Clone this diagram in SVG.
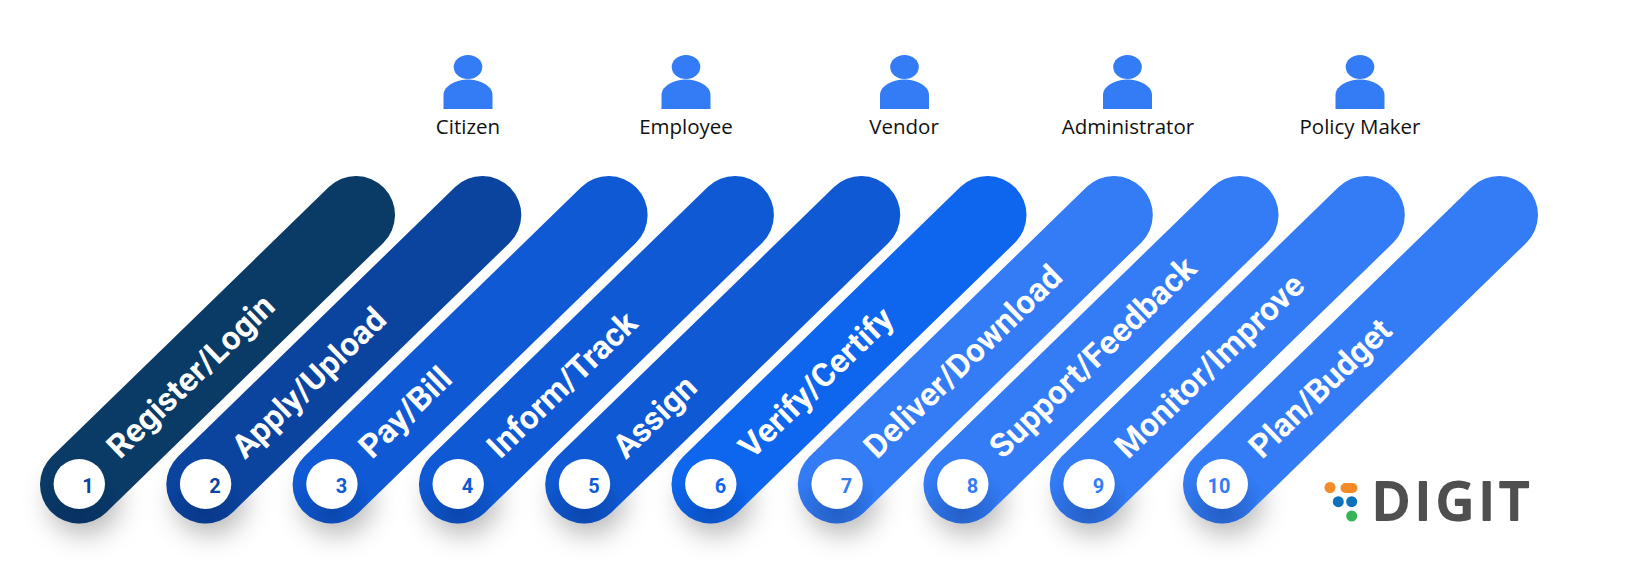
<svg xmlns="http://www.w3.org/2000/svg" width="1627" height="587" viewBox="0 0 1627 587">
<style>
.t{font-family:"Roboto","Liberation Sans",sans-serif;font-weight:700;font-size:32.800px;fill:#fff}
.n{font-family:"Roboto","Liberation Sans",sans-serif;font-weight:700;font-size:20px;text-anchor:middle}
.l{font-family:"Open Sans","Liberation Sans",sans-serif;font-size:20.500px;fill:#111;text-anchor:middle}
.ic{fill:#337cf5}
.p{fill:none;stroke-width:78;stroke-linecap:round}
</style>
<defs>
<filter id="sh" x="-60%" y="-60%" width="220%" height="220%"><feGaussianBlur stdDeviation="13"/></filter>
<filter id="lb" x="-5%" y="-5%" width="110%" height="110%"><feGaussianBlur stdDeviation="0.6"/></filter>
<radialGradient id="dk" gradientUnits="objectBoundingBox" cx="0.5" cy="0.85" r="0.6"><stop offset="0" stop-color="#001a55" stop-opacity="0.3"/><stop offset="1" stop-color="#001a55" stop-opacity="0"/></radialGradient>
<symbol id="person" overflow="visible"><ellipse class="ic" cx="0" cy="-2" rx="14.300" ry="12"/><path class="ic" d="M-24.500 40V26C-24.500 16-10 10.500 0 10.500S24.500 16 24.500 26V40Z"/></symbol>
</defs>
<g id="shadows" fill="#000" fill-opacity="0.27" filter="url(#sh)">
<ellipse cx="84" cy="501" rx="36" ry="34"/><ellipse cx="210" cy="501" rx="36" ry="34"/><ellipse cx="337" cy="501" rx="36" ry="34"/><ellipse cx="463" cy="501" rx="36" ry="34"/><ellipse cx="589" cy="501" rx="36" ry="34"/><ellipse cx="716" cy="501" rx="36" ry="34"/><ellipse cx="842" cy="501" rx="36" ry="34"/><ellipse cx="968" cy="501" rx="36" ry="34"/><ellipse cx="1094" cy="501" rx="36" ry="34"/><ellipse cx="1227" cy="501" rx="36" ry="34"/>
</g>
<g id="step1"><path class="p" stroke="#0a3a66" d="M79 484.500L356 215"/><circle cx="79" cy="484.500" r="39" fill="url(#dk)"/><ellipse cx="79.300" cy="484" rx="25.700" ry="25" fill="#fff"/><text class="n" x="88" y="493" fill="#0b449f">1</text><text class="t" transform="translate(120 460) rotate(-44)">Register/Login</text></g>
<g id="step2"><path class="p" stroke="#0b449f" d="M205.300 484.500L482.300 215"/><circle cx="205.300" cy="484.500" r="39" fill="url(#dk)"/><ellipse cx="205.600" cy="484" rx="25.700" ry="25" fill="#fff"/><text class="n" x="215" y="493" fill="#0b449f">2</text><text class="t" transform="translate(245 460) rotate(-44)">Apply/Upload</text></g>
<g id="step3"><path class="p" stroke="#0f5ad4" d="M331.600 484.500L608.600 215"/><circle cx="331.600" cy="484.500" r="39" fill="url(#dk)"/><ellipse cx="331.900" cy="484" rx="25.700" ry="25" fill="#fff"/><text class="n" x="341.500" y="493" fill="#0f5ad4">3</text><text class="t" transform="translate(372 460) rotate(-44)">Pay/Bill</text></g>
<g id="step4"><path class="p" stroke="#0f5ad4" d="M457.900 484.500L734.900 215"/><circle cx="457.900" cy="484.500" r="39" fill="url(#dk)"/><ellipse cx="458.200" cy="484" rx="25.700" ry="25" fill="#fff"/><text class="n" x="467.500" y="493" fill="#0f5ad4">4</text><text class="t" transform="translate(500 460) rotate(-44)">Inform/Track</text></g>
<g id="step5"><path class="p" stroke="#0f5ad4" d="M584.200 484.500L861.200 215"/><circle cx="584.200" cy="484.500" r="39" fill="url(#dk)"/><ellipse cx="584.500" cy="484" rx="25.700" ry="25" fill="#fff"/><text class="n" x="594" y="493" fill="#0f5ad4">5</text><text class="t" transform="translate(626 460) rotate(-44)">Assign</text></g>
<g id="step6"><path class="p" stroke="#0e66ee" d="M710.500 484.500L987.500 215"/><circle cx="710.500" cy="484.500" r="39" fill="url(#dk)"/><ellipse cx="710.800" cy="484" rx="25.700" ry="25" fill="#fff"/><text class="n" x="720.500" y="493" fill="#0e66ee">6</text><text class="t" transform="translate(752 460) rotate(-44)">Verify/Certify</text></g>
<g id="step7"><path class="p" stroke="#337cf5" d="M836.800 484.500L1113.800 215"/><circle cx="836.800" cy="484.500" r="39" fill="url(#dk)"/><ellipse cx="837.100" cy="484" rx="25.700" ry="25" fill="#fff"/><text class="n" x="846.500" y="493" fill="#337cf5">7</text><text class="t" transform="translate(877 460) rotate(-44)">Deliver/Download</text></g>
<g id="step8"><path class="p" stroke="#337cf5" d="M962.500 484.500L1239.500 215"/><circle cx="962.500" cy="484.500" r="39" fill="url(#dk)"/><ellipse cx="962.800" cy="484" rx="25.700" ry="25" fill="#fff"/><text class="n" x="972.500" y="493" fill="#337cf5">8</text><text class="t" transform="translate(1002.500 460) rotate(-44)">Support/Feedback</text></g>
<g id="step9"><path class="p" stroke="#337cf5" d="M1088.800 484.500L1365.800 215"/><circle cx="1088.800" cy="484.500" r="39" fill="url(#dk)"/><ellipse cx="1089.100" cy="484" rx="25.700" ry="25" fill="#fff"/><text class="n" x="1098.500" y="493" fill="#337cf5">9</text><text class="t" transform="translate(1128 460) rotate(-44)">Monitor/Improve</text></g>
<g id="step10"><path class="p" stroke="#337cf5" d="M1222 484.500L1499 215"/><circle cx="1222" cy="484.500" r="39" fill="url(#dk)"/><ellipse cx="1222.300" cy="484" rx="25.700" ry="25" fill="#fff"/><text class="n" x="1219" y="493" fill="#337cf5">10</text><text class="t" transform="translate(1262 460) rotate(-44)">Plan/Budget</text></g>
<g id="citizen"><use href="#person" x="468" y="69"/><text class="l" x="468" y="133.500">Citizen</text></g>
<g id="employee"><use href="#person" x="686" y="69"/><text class="l" x="686" y="133.500">Employee</text></g>
<g id="vendor"><use href="#person" x="904.500" y="69"/><text class="l" x="904" y="133.500">Vendor</text></g>
<g id="administrator"><use href="#person" x="1127.500" y="69"/><text class="l" x="1128" y="133.500">Administrator</text></g>
<g id="policy-maker"><use href="#person" x="1360" y="69"/><text class="l" x="1360" y="133.500">Policy Maker</text></g>
<g id="logo">
<circle cx="1330" cy="487.500" r="5.500" fill="#f58a29"/><rect x="1340.500" y="483" width="17" height="10" rx="5" fill="#f58a29"/>
<circle cx="1338.300" cy="501.700" r="5.500" fill="#0b72bb"/><circle cx="1351.700" cy="501.700" r="5.500" fill="#0b72bb"/><circle cx="1351.700" cy="516" r="5.500" fill="#35b557"/>
<text x="1372" y="520" filter="url(#lb)" font-family="Open Sans,Liberation Sans,sans-serif" font-weight="600" font-size="52" letter-spacing="5" fill="#505050" stroke="#505050" stroke-width="2" stroke-linejoin="round">DIGIT</text>
</g>
</svg>
